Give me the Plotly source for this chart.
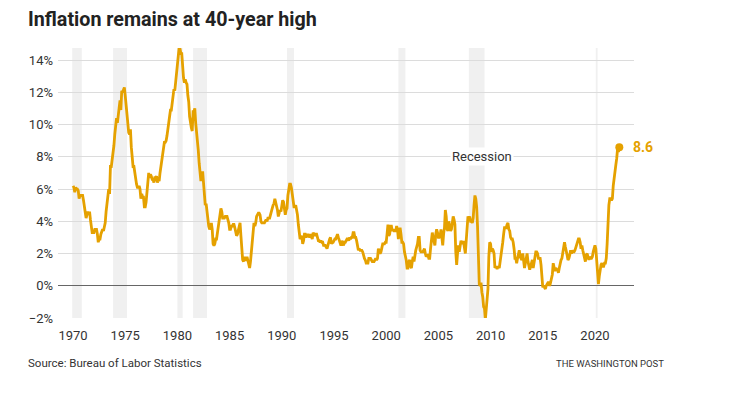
import plotly.graph_objects as go

# Monthly CPI-U, year-over-year % change (Jan of each year ...)
cpi_1970s = [
    6.2, 6.1, 5.8, 6.1, 6.0, 6.0, 5.9, 5.4, 5.6, 5.6, 5.6, 5.6,
    5.3, 5.0, 4.7, 4.2, 4.4, 4.6, 4.4, 4.6, 4.1, 3.8, 3.3, 3.3,
    3.3, 3.5, 3.5, 3.5, 3.2, 2.7, 2.9, 2.9, 3.2, 3.4, 3.5, 3.4,
    3.6, 3.9, 4.6, 5.1, 5.5, 6.0, 5.7, 7.4, 7.4, 7.8, 8.3, 8.7,
    9.4, 10.0, 10.4, 10.1, 10.7, 10.9, 11.5, 10.9, 12.1, 12.0, 12.2, 12.3,
    11.8, 11.2, 10.3, 10.2, 9.5, 9.4, 9.7, 8.6, 7.9, 7.4, 7.4, 6.9,
    6.7, 6.3, 6.1, 6.1, 6.2, 6.0, 5.4, 5.7, 5.5, 5.5, 4.9, 4.9,
    5.2, 6.0, 6.4, 7.0, 6.7, 6.9, 6.8, 6.6, 6.6, 6.4, 6.7, 6.7,
    6.8, 6.4, 6.6, 6.5, 7.0, 7.4, 7.7, 7.9, 8.3, 8.9, 8.9, 9.0,
    9.3, 9.9, 10.1, 10.5, 10.9, 10.9, 11.3, 11.8, 12.2, 12.1, 12.6, 13.3,
]
cpi_1980s = [
    13.9, 14.2, 14.8, 14.7, 14.4, 14.4, 13.1, 12.9, 12.6, 12.8, 12.6, 12.5,
    11.8, 11.4, 10.5, 10.0, 9.8, 9.6, 10.8, 10.8, 11.0, 10.1, 9.6, 8.9,
    8.4, 7.6, 6.8, 6.5, 6.7, 7.1, 6.4, 5.9, 5.0, 5.1, 4.6, 3.8,
    3.7, 3.5, 3.6, 3.9, 3.5, 2.6, 2.5, 2.6, 2.9, 2.9, 3.3, 3.8,
    4.2, 4.6, 4.8, 4.6, 4.2, 4.2, 4.2, 4.3, 4.3, 4.3, 4.1, 3.9,
    3.5, 3.5, 3.7, 3.7, 3.8, 3.8, 3.6, 3.3, 3.1, 3.2, 3.5, 3.8,
    3.9, 3.1, 2.3, 1.6, 1.5, 1.8, 1.6, 1.6, 1.8, 1.5, 1.3, 1.1,
    1.5, 2.1, 3.0, 3.8, 3.9, 3.7, 3.9, 4.3, 4.4, 4.5, 4.5, 4.4,
    4.0, 3.9, 3.9, 3.9, 3.9, 4.0, 4.1, 4.0, 4.2, 4.2, 4.2, 4.4,
    4.7, 4.8, 5.0, 5.1, 5.4, 5.2, 5.0, 4.7, 4.3, 4.5, 4.7, 4.6,
]
cpi_1990s = [
    5.2, 5.3, 5.2, 4.7, 4.4, 4.7, 4.8, 5.6, 6.2, 6.3, 6.3, 6.1,
    5.7, 5.3, 4.9, 4.9, 5.0, 4.7, 4.4, 3.8, 3.4, 2.9, 3.0, 3.1,
    2.6, 2.8, 3.2, 3.2, 3.0, 3.1, 3.2, 3.1, 3.0, 3.2, 3.0, 2.9,
    3.3, 3.2, 3.1, 3.2, 3.2, 3.0, 2.8, 2.8, 2.7, 2.8, 2.7, 2.7,
    2.5, 2.5, 2.5, 2.4, 2.3, 2.5, 2.8, 2.9, 3.0, 2.6, 2.7, 2.7,
    2.8, 2.9, 2.9, 3.1, 3.2, 3.0, 2.8, 2.6, 2.5, 2.8, 2.6, 2.5,
    2.7, 2.7, 2.8, 2.9, 2.9, 2.8, 3.0, 2.9, 3.0, 3.0, 3.3, 3.3,
    3.0, 3.0, 2.8, 2.5, 2.2, 2.3, 2.2, 2.2, 2.2, 2.1, 1.8, 1.7,
    1.6, 1.4, 1.4, 1.4, 1.7, 1.7, 1.7, 1.6, 1.5, 1.5, 1.5, 1.6,
    1.7, 1.6, 1.7, 2.3, 2.1, 2.0, 2.1, 2.3, 2.6, 2.6, 2.6, 2.7,
]
cpi_2000s = [
    2.7, 3.2, 3.8, 3.1, 3.2, 3.7, 3.7, 3.4, 3.5, 3.4, 3.4, 3.4,
    3.7, 3.5, 2.9, 3.3, 3.6, 3.2, 2.7, 2.7, 2.6, 2.1, 1.9, 1.6,
    1.1, 1.1, 1.5, 1.6, 1.2, 1.1, 1.5, 1.8, 1.5, 2.0, 2.2, 2.4,
    2.6, 3.0, 3.0, 2.2, 2.1, 2.1, 2.1, 2.2, 2.3, 2.0, 1.8, 1.9,
    1.9, 1.7, 1.7, 2.3, 3.1, 3.3, 3.0, 2.7, 2.5, 3.2, 3.5, 3.3,
    3.0, 3.0, 3.1, 3.5, 2.8, 2.5, 3.2, 3.6, 4.7, 4.3, 3.5, 3.4,
    4.0, 3.6, 3.4, 3.5, 4.2, 4.3, 4.1, 3.8, 2.1, 1.3, 2.0, 2.5,
    2.1, 2.4, 2.8, 2.6, 2.7, 2.7, 2.4, 2.0, 2.8, 3.5, 4.3, 4.1,
    4.3, 4.0, 4.0, 3.9, 4.2, 5.0, 5.6, 5.4, 4.9, 3.7, 1.1, 0.1,
    0.0, 0.2, -0.4, -0.7, -1.3, -1.4, -2.1, -1.5, -1.3, -0.2, 1.8, 2.7,
]
cpi_2010s = [
    2.6, 2.1, 2.3, 2.2, 2.0, 1.1, 1.2, 1.1, 1.1, 1.2, 1.1, 1.5,
    1.6, 2.1, 2.7, 3.2, 3.6, 3.6, 3.6, 3.8, 3.9, 3.5, 3.4, 3.0,
    2.9, 2.9, 2.7, 2.3, 1.7, 1.7, 1.4, 1.7, 2.0, 2.2, 1.8, 1.7,
    1.6, 2.0, 1.5, 1.1, 1.4, 1.8, 2.0, 1.5, 1.2, 1.0, 1.2, 1.5,
    1.6, 1.1, 1.5, 2.0, 2.1, 2.1, 2.0, 1.7, 1.7, 1.7, 1.3, 0.8,
    -0.1, 0.0, -0.1, -0.2, 0.0, 0.1, 0.2, 0.2, 0.0, 0.2, 0.5, 0.7,
    1.4, 1.0, 0.9, 1.1, 1.0, 1.0, 0.8, 1.1, 1.5, 1.6, 1.7, 2.1,
    2.5, 2.7, 2.4, 2.2, 1.9, 1.6, 1.7, 1.9, 2.2, 2.0, 2.2, 2.1,
    2.1, 2.2, 2.4, 2.5, 2.8, 2.9, 2.9, 2.7, 2.3, 2.5, 2.2, 1.9,
    1.6, 1.5, 1.9, 2.0, 1.8, 1.6, 1.8, 1.7, 1.7, 1.8, 2.1, 2.3,
]
cpi_2020s = [
    2.5, 2.3, 1.5, 0.3, 0.1, 0.6, 1.0, 1.3, 1.4, 1.2, 1.2, 1.4,
    1.4, 1.7, 2.6, 4.2, 5.0, 5.4, 5.4, 5.3, 5.4, 6.2, 6.8, 7.0,
    7.5, 7.9, 8.5, 8.3, 8.6,
]
start_year = 1970

# NBER recessions (decimal years: start, end)
recession_start = [1969.92, 1973.84, 1980.0, 1981.5, 1990.5, 2001.17, 2007.92, 2020.08]
recession_end = [1970.84, 1975.17, 1980.5, 1982.84, 1991.17, 2001.84, 2009.42, 2020.25]

y_ticks = [-2, 0, 2, 4, 6, 8, 10, 12, 14]
y_tick_labels = ["\u22122%", "0%", "2%", "4%", "6%", "8%", "10%", "12%", "14%"]
x_ticks = [1970, 1975, 1980, 1985, 1990, 1995, 2000, 2005, 2010, 2015, 2020]

values = cpi_1970s + cpi_1980s + cpi_1990s + cpi_2000s + cpi_2010s + cpi_2020s
dates = [start_year + i / 12 for i in range(len(values))]

LINE = "#e5a100"
FONT = "Roboto"

fig = go.Figure()

for s, e in zip(recession_start, recession_end):
    fig.add_shape(type="rect", xref="x", yref="paper", x0=s, x1=e, y0=0, y1=1,
                  fillcolor="#f0f0f0", line_width=0, layer="below")

fig.add_trace(go.Scatter(x=dates, y=values, mode="lines",
                         line=dict(color=LINE, width=2.8), hoverinfo="skip",
                         showlegend=False))
fig.add_trace(go.Scatter(x=[dates[-1]], y=[values[-1]], mode="markers",
                         marker=dict(color=LINE, size=8), showlegend=False,
                         hoverinfo="skip"))

fig.add_annotation(x=dates[-1], y=values[-1], text="<b>%.1f</b>" % values[-1],
                   showarrow=False, xanchor="left", xshift=12,
                   font=dict(family=FONT, size=14, color=LINE))
fig.add_annotation(x=recession_start[6] + 1.3, y=8, text="Recession",
                   showarrow=False, bgcolor="white", borderpad=1,
                   font=dict(family=FONT, size=13, color="#333"))

fig.add_annotation(xref="paper", yref="paper", x=-0.0556, y=1.104,
                   text="<b>Inflation remains at 40-year high</b>", showarrow=False,
                   xanchor="left", yanchor="middle",
                   font=dict(family=FONT, size=19.7, color="#222"))
fig.add_annotation(xref="paper", yref="paper", x=-0.0556, y=-0.1667,
                   text="Source: Bureau of Labor Statistics", showarrow=False,
                   xanchor="left", yanchor="middle",
                   font=dict(family=FONT, size=11.5, color="#333"))
fig.add_annotation(xref="paper", yref="paper", x=1.0556, y=-0.1667,
                   text="THE WASHINGTON POST", showarrow=False,
                   xanchor="right", yanchor="middle",
                   font=dict(family=FONT, size=9.5, color="#333"))

fig.update_layout(
    width=728, height=379,
    margin=dict(l=50, r=102, t=40, b=69, autoexpand=False),
    paper_bgcolor="white", plot_bgcolor="white",
    font=dict(family=FONT, size=13, color="#333"),
    xaxis=dict(range=[1968.56, 2023.74], tickvals=x_ticks, showgrid=False,
               zeroline=False, showline=False, ticks="", ticklabelstandoff=8,
               tickfont=dict(size=13)),
    yaxis=dict(range=[-2, 14.75], tickvals=y_ticks, ticktext=y_tick_labels,
               showgrid=True, gridcolor="#dcdcdc", gridwidth=1,
               zeroline=True, zerolinecolor="#666", zerolinewidth=1.2,
               showline=False, ticks="", ticklabelstandoff=4,
               tickfont=dict(size=13)),
)

fig.write_html("out.html")
